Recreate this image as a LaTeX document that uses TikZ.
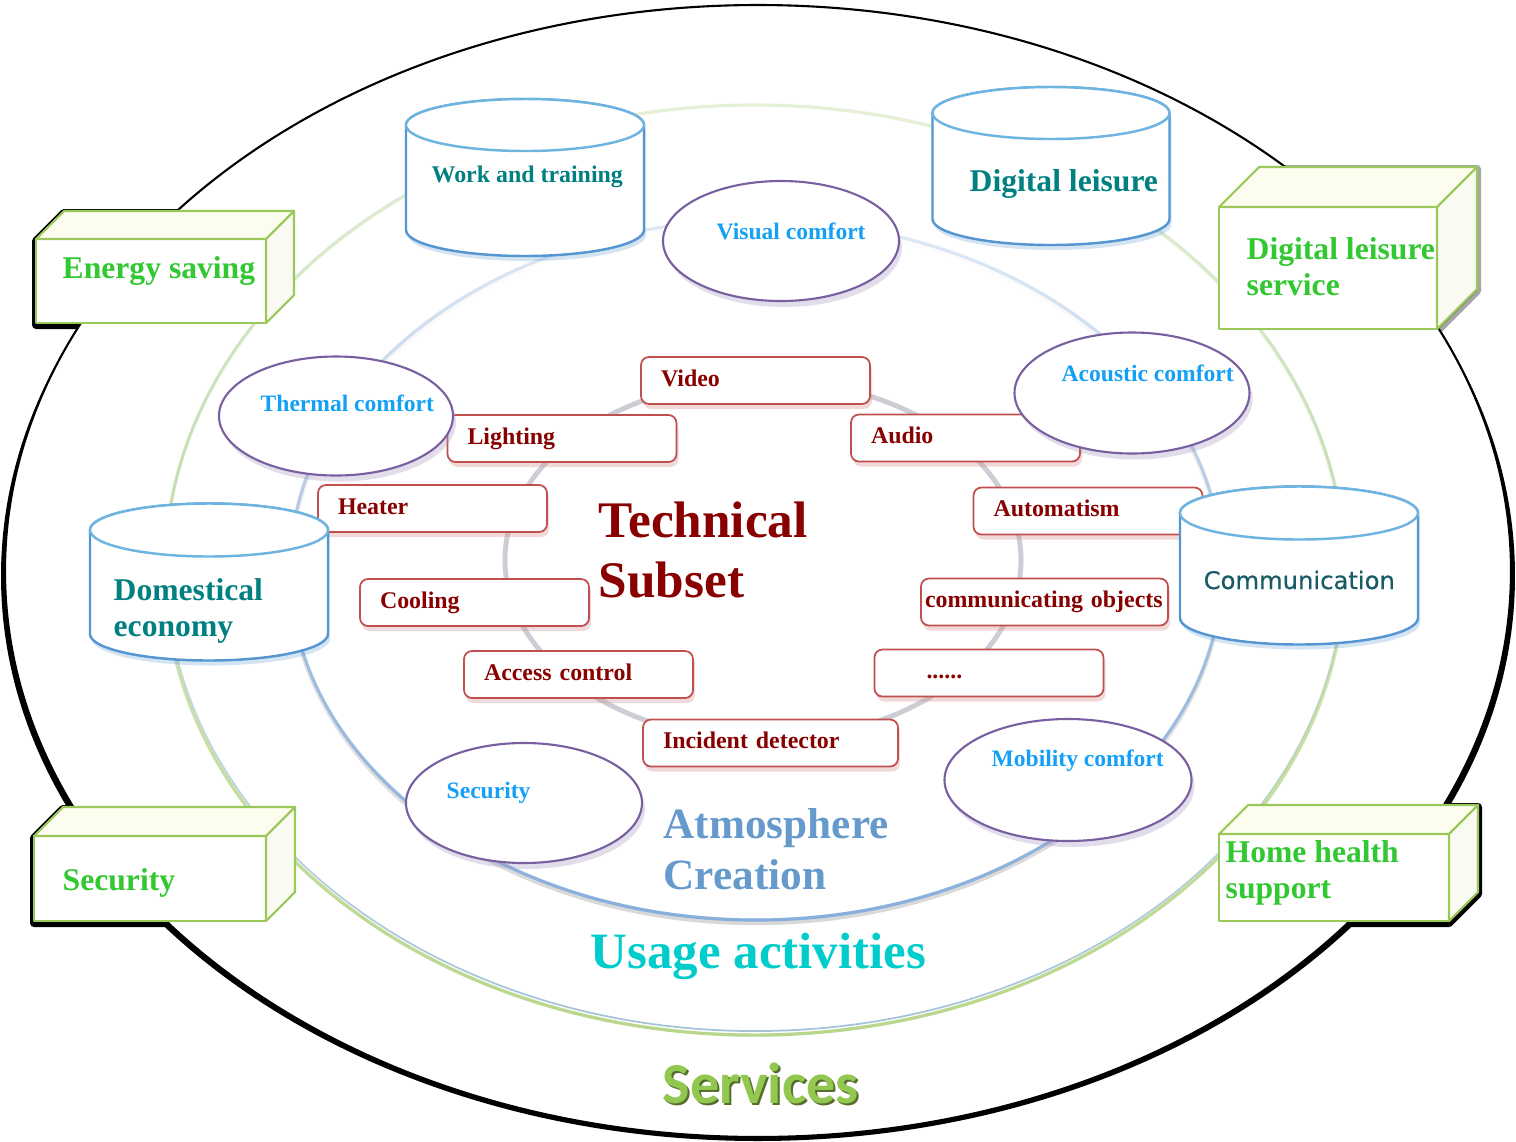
\documentclass[tikz,border=0pt]{standalone}
\usepackage{fontspec}
\setmainfont{Liberation Serif}
\newfontfamily\calibrifont{Carlito}
\newfontfamily\dejavufont[FakeBold=0.5]{DejaVu Sans}
\usetikzlibrary{shapes.geometric,shadows,fadings}

\definecolor{boxgreen}{RGB}{155,200,90}
\definecolor{txtgreen}{RGB}{50,200,50}
\definecolor{cubetopcol}{RGB}{252,253,238}
\definecolor{cubesidecol}{RGB}{249,251,242}
\definecolor{cylcol}{RGB}{85,150,210}
\definecolor{cyltopcol}{RGB}{110,180,225}
\definecolor{cyltxtcol}{RGB}{0,128,128}
\definecolor{commcol}{RGB}{25,92,102}
\definecolor{ellcol}{RGB}{120,95,160}
\definecolor{elltxtcol}{RGB}{20,160,245}
\definecolor{redcol}{RGB}{192,80,77}
\definecolor{redtxtcol}{RGB}{136,0,0}
\definecolor{atmocol}{RGB}{102,153,204}
\definecolor{usagecol}{RGB}{0,204,204}
\definecolor{servgreen}{RGB}{146,200,80}
\definecolor{servdark}{RGB}{85,110,45}
\definecolor{usageringcol}{RGB}{185,215,140}
\definecolor{usageedgecol}{RGB}{165,195,215}
\definecolor{atmoringcol}{RGB}{135,175,220}
\definecolor{techringcol}{RGB}{205,205,214}

\newcommand\cubshadow[6]{%
  \draw[black, fill=black, line width=0.8mm, line join=round, opacity=#6, shift={(0,2)}]
    (#1,#2+#4) -- (#1,#2) -- (#1+#5,#2-#5) -- (#1+#3+#5,#2-#5) -- (#1+#3+#5,#2+#4-#5) -- (#1+#3,#2+#4) -- cycle;}
\newcommand\cubbox[5]{%
  \filldraw[cubeline, fill=white] (#1,#2) rectangle (#1+#3,#2+#4);
  \filldraw[cubeline, fill=cubetopcol] (#1,#2) -- (#1+#5,#2-#5) -- (#1+#3+#5,#2-#5) -- (#1+#3,#2) -- cycle;
  \filldraw[cubeline, fill=cubesidecol] (#1+#3,#2) -- (#1+#3+#5,#2-#5) -- (#1+#3+#5,#2+#4-#5) -- (#1+#3,#2+#4) -- cycle;}
\newcommand\cylinder[5]{%
  \filldraw[cyl, drop shadow={opacity=0.25, shadow xshift=0.2mm, shadow yshift=-0.5mm, fill=cylcol}]
    (#1-#4,#2) -- (#1-#4,#3) arc[start angle=180, end angle=360, x radius=#4*0.1mm, y radius=#5*0.1mm]
    -- (#1+#4,#2) arc[start angle=0, end angle=180, x radius=#4*0.1mm, y radius=#5*0.1mm] -- cycle;
  \draw[cyl, draw=cyltopcol] (#1,#2) ellipse [x radius=#4*0.1mm, y radius=#5*0.1mm];}

\begin{document}
\begin{tikzpicture}[x=0.1mm, y=-0.1mm,
    cubeline/.style={draw=boxgreen, line width=0.6pt, line join=round},
    boxtext/.style={font=\bfseries\fontsize{9}{10.1}\selectfont, text=txtgreen, inner sep=0, align=left},
    cyl/.style={draw=cylcol, line width=0.7pt, fill=white},
    cyltext/.style={font=\bfseries\fontsize{9}{10.2}\selectfont, text=cyltxtcol, inner sep=0, align=left},
    ell/.style={ellipse, draw=ellcol, line width=0.6pt, fill=white, inner sep=0,
        drop shadow={opacity=0.3, shadow xshift=0.3mm, shadow yshift=-0.6mm, fill=ellcol!70}},
    elltext/.style={font=\bfseries\fontsize{6.7}{8}\selectfont, text=elltxtcol, anchor=base west, inner sep=0},
    tbox/.style={rectangle, rounded corners=0.8mm, draw=redcol, line width=0.5pt, fill=white,
        minimum height=4.7mm, inner xsep=2mm, text width=18.9mm, text height=1.6mm, text depth=0.5mm,
        font=\bfseries\fontsize{6.8}{8}\selectfont, text=redtxtcol,
        drop shadow={opacity=0.3, shadow xshift=0.2mm, shadow yshift=-0.5mm, fill=redcol!70}},
    bigtext/.style={font=\bfseries\fontsize{14.6}{16.8}\selectfont, inner sep=0, align=left, anchor=west},
]
\useasboundingbox (0,0) rectangle (1516,1141);

\fill[black] (758,576) ellipse [x radius=75.7mm, y radius=56.5mm];
\cubshadow{36}{239}{230}{84}{28}{1}
\cubshadow{1219}{207}{218}{122}{40}{0.35}
\cubshadow{34}{836}{232}{85}{29}{1}
\cubshadow{1219}{834}{230}{87}{29}{1}
\filldraw[fill=white, draw=black, line width=0.6pt] (758,571) ellipse [x radius=75.3mm, y radius=56.6mm];

\draw[usageringcol, opacity=0.35, line width=0.9pt] (755,570) ellipse [x radius=59mm, y radius=46.5mm];
\draw[usageedgecol, line width=0.5pt, path fading=north] (755,567) ellipse [x radius=58.9mm, y radius=46.4mm];
\draw[usageringcol, line width=0.9pt, path fading=north] (755,570) ellipse [x radius=59mm, y radius=46.5mm];
\draw[atmoringcol, opacity=0.25, line width=0.9pt] (756,570) ellipse [x radius=46.6mm, y radius=35mm];
\draw[gray!60, opacity=0.5, line width=1.2pt, path fading=north] (756,573) ellipse [x radius=46.6mm, y radius=35mm];
\draw[atmoringcol, line width=0.9pt, path fading=north] (756,570) ellipse [x radius=46.6mm, y radius=35mm];
\draw[techringcol, line width=1.4pt] (763,560) ellipse [x radius=25.8mm, y radius=18mm];

\node[tbox] (video) at (755.5,380.5) {Video};
\node[tbox] (lighting) at (562,438.5) {Lighting};
\node[tbox] (audio) at (965.5,438) {Audio};
\node[tbox] (heater) at (432.5,508.5) {Heater};
\node[tbox] (automatism) at (1088,511) {Automatism};
\node[tbox] (cooling) at (474.5,602.5) {Cooling};
\node[tbox, inner xsep=0.4mm, text width=23.9mm] (objects) at (1044.5,602) {communicating objects};
\node[tbox] (access) at (578.5,674.5) {Access control};
\node[tbox] (more) at (989,673) {\hspace*{3.2mm}......};
\node[tbox, text width=21.5mm] (incident) at (770.5,743) {Incident detector};

\node[ell, minimum width=23.6mm, minimum height=12mm] (visual) at (781,241) {};
\node[ell, minimum width=23.4mm, minimum height=11.9mm] (thermal) at (336,416) {};
\node[ell, minimum width=23.5mm, minimum height=12.1mm] (acoustic) at (1132,393) {};
\node[ell, minimum width=23.6mm, minimum height=12mm] (safety) at (524,803) {};
\node[ell, minimum width=24.7mm, minimum height=12.2mm] (mobility) at (1068,780) {};
\node[elltext] (visualtxt) at (716,239) {Visual comfort};
\node[elltext] (thermaltxt) at (260,411) {Thermal comfort};
\node[elltext] (acoustictxt) at (1061,381) {Acoustic comfort};
\node[elltext] (safetytxt) at (446,798) {Security};
\node[elltext] (mobilitytxt) at (991,766) {Mobility comfort};

\cylinder{525}{125}{230}{119}{26}
\cylinder{1051}{113}{219}{118.5}{26}
\cylinder{209}{530}{634}{119}{26.5}
\cylinder{1299}{513}{618}{119}{26.5}
\node[cyltext, anchor=base west, font=\bfseries\fontsize{6.8}{8}\selectfont] (work) at (431,182) {Work and training};
\node[cyltext, anchor=base west] (leisure) at (969,191.5) {Digital leisure};
\node[cyltext, anchor=west] (economy) at (113,611) {Domestical\\economy};
\node[anchor=base west, inner sep=0, font=\dejavufont\fontsize{6.9}{8}\selectfont, text=commcol] (comm) at (1203,589) {Communication};

\cubbox{36}{239}{230}{84}{28}
\cubbox{1219}{207}{218}{122}{40}
\cubbox{34}{836}{232}{85}{29}
\cubbox{1219}{834}{230}{87}{29}
\node[boxtext, anchor=base west] (energy) at (62,278) {Energy saving};
\node[boxtext, anchor=west] (leisureservice) at (1246,266.5) {Digital leisure\\service};
\node[boxtext, anchor=base west] (security) at (62,890) {Security};
\node[boxtext, anchor=west] (health) at (1225,873) {Home health\\support};

\node[bigtext, text=redtxtcol] (technical) at (598,550) {Technical\\Subset};
\node[bigtext, font=\bfseries\fontsize{12.3}{14.5}\selectfont, text=atmocol] (atmosphere) at (663,849) {Atmosphere\\Creation};
\node[anchor=base west, inner sep=0, font=\bfseries\fontsize{14.5}{17}\selectfont, text=usagecol] (usage) at (590,968) {Usage activities};
\node[anchor=base west, inner sep=0, font=\calibrifont\bfseries\fontsize{16.5}{20}\selectfont, text=servdark] (servicesshade) at (664,1105) {Services};
\node[anchor=base west, inner sep=0, font=\calibrifont\bfseries\fontsize{16.5}{20}\selectfont, text=servgreen] (services) at (662,1103) {Services};
\end{tikzpicture}
\end{document}
